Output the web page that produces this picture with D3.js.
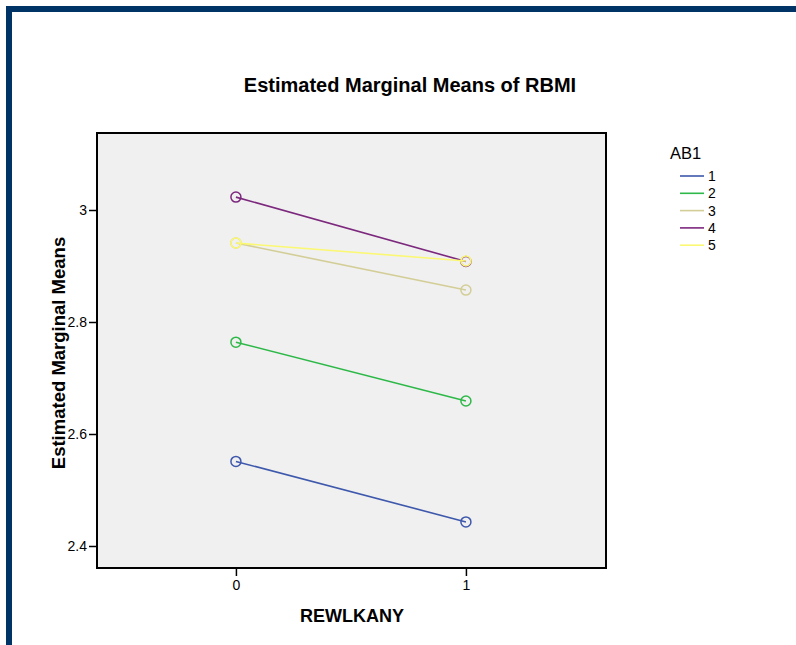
<!DOCTYPE html>
<html><head><meta charset="utf-8">
<script src="https://cdn.jsdelivr.net/npm/d3@7"></script>
<style>body{margin:0;background:#fff}svg{display:block;font-family:"Liberation Sans",Arial,sans-serif}</style>
</head><body>
<svg id="c" width="796" height="645"></svg>
<script>
const xCategories = [0, 1];
const seriesNames = ["1", "2", "3", "4", "5"];
const seriesColors = ["#3E58AC", "#2EB848", "#D3CE97", "#7C287D", "#FBF873"];
const seriesValues = [
  [2.551, 2.443],
  [2.764, 2.659],
  [2.941, 2.857],
  [3.023, 2.908],
  [2.941, 2.909]
];
const yTicks = [2.4, 2.6, 2.8, 3];

const svg = d3.select("#c");
svg.append("rect").attr("x",6).attr("y",6).attr("width",790).attr("height",6).attr("fill","#003466");
svg.append("rect").attr("x",6).attr("y",6).attr("width",6).attr("height",639).attr("fill","#003466");

const L=97, R=606, T=133, B=568;
const x = d3.scaleLinear().domain([-0.604, 1.609]).range([L, R]);
const y = d3.scaleLinear().domain([2.3607, 3.1375]).range([B, T]);

svg.append("rect").attr("x",L).attr("y",T).attr("width",R-L).attr("height",B-T).attr("fill","#f0f0f0");

const ya = svg.append("g").attr("transform",`translate(${L},0)`)
  .call(d3.axisLeft(y).tickValues(yTicks).tickFormat(d=>String(d)).tickSize(8).tickPadding(2));
const xa = svg.append("g").attr("transform",`translate(0,${B})`)
  .call(d3.axisBottom(x).tickValues(xCategories).tickFormat(d=>String(d)).tickSize(8).tickPadding(4));
[ya, xa].forEach(a=>{
  a.select(".domain").remove();
  a.selectAll("line").attr("stroke","#000").attr("stroke-width",1.5);
  a.selectAll("text").attr("font-size",14).attr("fill","#000").attr("font-family","Liberation Sans, Arial, sans-serif");
});

svg.append("rect").attr("x",L).attr("y",T).attr("width",R-L).attr("height",B-T)
  .attr("fill","none").attr("stroke","#000").attr("stroke-width",2);

const line = d3.line().x((d,i)=>x(xCategories[i])).y(d=>y(d));
seriesValues.forEach((vals,si)=>{
  const g = svg.append("g");
  g.append("path").attr("d", line(vals)).attr("fill","none").attr("stroke",seriesColors[si]).attr("stroke-width",1.6);
  g.selectAll("circle").data(vals).join("circle")
    .attr("cx",(d,i)=>x(xCategories[i])).attr("cy",d=>y(d)).attr("r",5)
    .attr("fill","none").attr("stroke",seriesColors[si]).attr("stroke-width",1.5);
});

svg.append("text").attr("x",410).attr("y",92).attr("text-anchor","middle")
  .attr("font-size",20).attr("font-weight","bold").text("Estimated Marginal Means of RBMI");
svg.append("text").attr("transform","translate(65,353) rotate(-90)").attr("text-anchor","middle")
  .attr("font-size",18.5).attr("font-weight","bold").text("Estimated Marginal Means");
svg.append("text").attr("x",352).attr("y",622).attr("text-anchor","middle")
  .attr("font-size",18).attr("font-weight","bold").text("REWLKANY");

const lg = svg.append("g");
lg.append("text").attr("x",670).attr("y",159).attr("font-size",16.5).text("AB1");
seriesNames.forEach((n,i)=>{
  const yy = 176 + i*17.3;
  lg.append("line").attr("x1",680).attr("x2",704).attr("y1",yy).attr("y2",yy)
    .attr("stroke",seriesColors[i]).attr("stroke-width",1.6);
  lg.append("text").attr("x",708).attr("y",yy+5).attr("font-size",14).text(n);
});
</script>
</body></html>
